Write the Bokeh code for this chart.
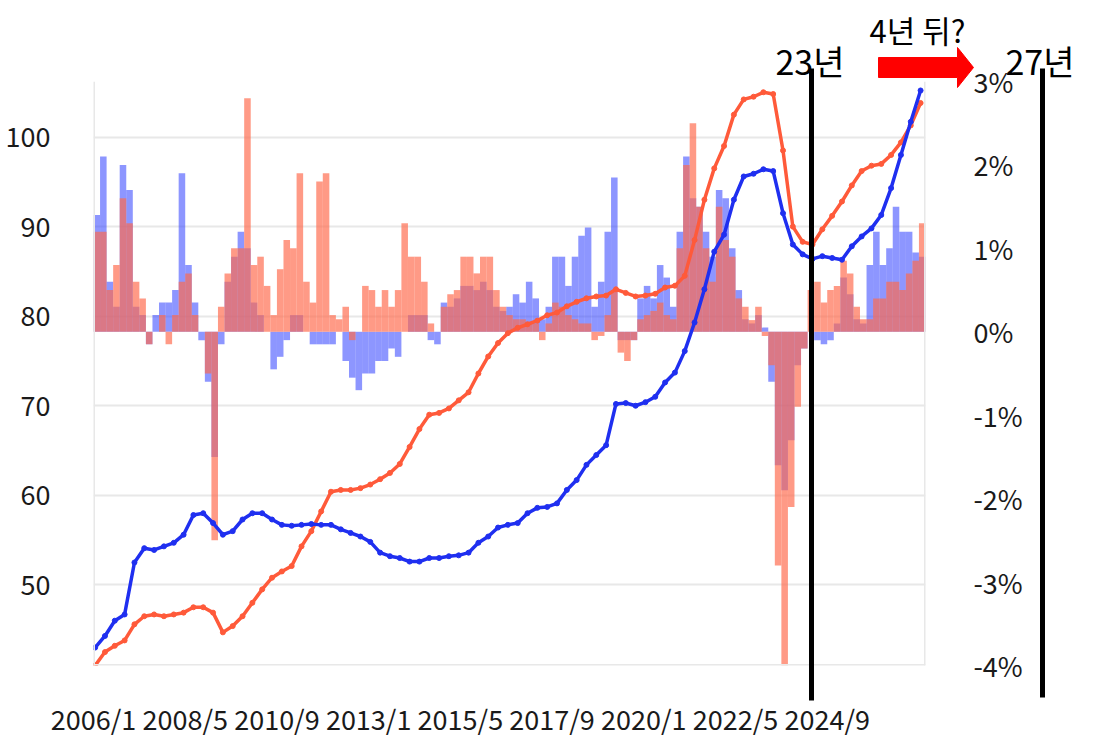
from bokeh.plotting import figure
from bokeh.models import Range1d, LinearAxis, FixedTicker, PrintfTickFormatter, Span
from bokeh.core.properties import value
from bokeh.embed import file_html
from bokeh.resources import INLINE

FONT = "Noto Sans CJK KR"

# 월 인덱스 (2006/1 = 0), 지수 라인은 3개월 간격
line_month = list(range(0, 253, 3))
blue_idx = [43.0, 44.3, 46.0, 46.7, 52.5, 54.1, 53.9, 54.3, 54.7, 55.6,
            57.8, 58.0, 56.9, 55.6, 56.0, 57.3, 58.0, 58.0, 57.3, 56.7,
            56.6, 56.7, 56.8, 56.7, 56.7, 56.2, 55.8, 55.4, 54.8, 53.6,
            53.2, 53.0, 52.6, 52.6, 53.0, 53.0, 53.2, 53.3, 53.6, 54.7,
            55.4, 56.4, 56.7, 56.9, 58.0, 58.6, 58.7, 59.1, 60.6, 61.7,
            63.4, 64.5, 65.6, 70.2, 70.3, 70.0, 70.4, 71.0, 72.6, 73.7,
            76.1, 79.3, 83.0, 87.2, 89.1, 93.0, 95.6, 95.9, 96.4, 96.2,
            91.5, 88.0, 86.9, 86.4, 86.7, 86.5, 86.3, 87.8, 88.9, 89.8,
            91.3, 94.3, 98.0, 101.7, 105.2]
red_idx = [41.0, 42.5, 43.2, 43.8, 45.6, 46.5, 46.7, 46.5, 46.7, 46.9,
           47.5, 47.5, 46.9, 44.7, 45.4, 46.5, 48.0, 49.5, 50.8, 51.5,
           52.1, 54.3, 56.0, 58.2, 60.4, 60.6, 60.6, 60.8, 61.2, 61.8,
           62.5, 63.5, 65.4, 67.4, 69.0, 69.2, 69.7, 70.6, 71.5, 73.6,
           75.5, 77.0, 78.1, 78.7, 79.1, 79.5, 80.1, 80.4, 81.1, 81.6,
           82.0, 82.2, 82.3, 83.0, 82.6, 82.2, 82.3, 82.5, 83.2, 83.4,
           84.5, 88.5, 93.0, 96.5, 99.0, 102.5, 104.2, 104.5, 105.0, 104.8,
           98.5, 90.0, 88.3, 88.0, 89.7, 91.2, 92.8, 94.6, 96.2, 96.8,
           97.0, 98.0, 99.4, 101.3, 103.8]

# 변동률 막대 (2개월 간격, %)
bar_month = list(range(0, 253, 2))
blue_chg = [1.4, 2.1, 0.6, 0.3, 2.0, 1.7, 0.3, 0.2, -0.15, 0.2,
            0.35, 0.35, 0.5, 1.9, 0.8, 0.35, -0.1, -0.6, -1.5, -0.15,
            0.6, 0.9, 1.2, 1.0, 0.35, 0.2, 0.0, -0.45, -0.3, -0.1,
            0.2, 0.2, 0.0, -0.15, -0.15, -0.15, -0.15, 0.0, -0.35, -0.55,
            -0.7, -0.5, -0.5, -0.35, -0.35, -0.2, -0.3, 0.0, 0.2, 0.2,
            0.2, -0.1, -0.15, 0.35, 0.3, 0.4, 0.55, 0.55, 0.5, 0.6,
            0.5, 0.3, 0.25, 0.3, 0.45, 0.35, 0.6, 0.4, 0.15, 0.3,
            0.9, 0.9, 0.55, 0.9, 1.15, 1.25, 0.3, 0.6, 1.2, 1.85,
            -0.1, -0.1, -0.1, 0.4, 0.55, 0.4, 0.8, 0.65, 0.3, 1.2,
            2.1, 1.6, 1.5, 1.2, 0.9, 1.7, 1.6, 1.0, 0.5, 0.15,
            0.1, 0.2, 0.05, -0.6, -1.6, -1.9, -1.3, -0.4, -0.2, 0.0,
            -0.1, -0.15, -0.1, 0.1, 0.65, 0.45, 0.15, 0.1, 0.8, 1.2,
            0.8, 1.0, 1.5, 1.2, 1.2, 0.95, 0.9]
red_chg = [1.2, 1.2, 0.5, 0.8, 1.6, 1.3, 0.6, 0.4, -0.15, 0.0,
           0.2, -0.15, 0.2, 0.6, 0.7, 0.2, 0.0, -0.5, -2.5, 0.3,
           0.7, 1.0, 1.0, 2.8, 0.8, 0.9, 0.55, 0.2, 0.75, 1.1,
           1.0, 1.9, 0.6, 0.35, 1.8, 1.9, 0.2, 0.15, 0.3, -0.1,
           0.0, 0.55, 0.5, 0.3, 0.5, 0.3, 0.5, 1.3, 0.9, 0.9,
           0.6, 0.1, 0.0, 0.3, 0.45, 0.5, 0.9, 0.9, 0.7, 0.9,
           0.9, 0.5, 0.3, 0.2, 0.15, 0.15, 0.1, 0.1, -0.1, 0.1,
           0.35, 0.3, 0.2, 0.15, 0.1, 0.1, -0.1, -0.05, 0.2, 0.5,
           -0.25, -0.35, -0.1, 0.15, 0.2, 0.25, 0.35, 0.2, 0.15, 1.0,
           2.0, 2.5, 1.5, 1.0, 0.6, 1.5, 1.1, 0.9, 0.4, 0.3,
           0.14, 0.3, -0.05, -0.4, -2.8, -4.0, -2.1, -0.9, -0.2, 0.5,
           0.6, 0.35, 0.5, 0.55, 0.85, 0.7, 0.3, 0.15, 0.15, 0.4,
           0.4, 0.6, 0.6, 0.5, 0.7, 0.85, 1.3]

tick_month = [0, 28, 56, 84, 112, 140, 168, 196, 224]
tick_label = ["2006/1", "2008/5", "2010/9", "2013/1", "2015/5",
              "2017/9", "2020/1", "2022/5", "2024/9"]
idx_ticks = [50, 60, 70, 80, 90, 100]
pct_ticks = [-4, -3, -2, -1, 0, 1, 2, 3]

# 주석 (23년 / 27년 세로선, 화살표, 문구) - 화면 픽셀 기준
year_text = ["23년", "27년"]
year_x = [775, 1005]
year_y = [60, 60]
ask_text = ["4년 뒤?"]
ask_x = [869]
ask_y = [29]
vline_x = [811, 1042]
vline_top = [68, 68]
vline_bottom = [700, 697]
arrow_x = [878, 957, 957, 973, 957, 957, 878]
arrow_y = [57, 57, 47, 67, 87, 77, 77]

W, H = 1110, 750

p = figure(width=W, height=H, output_backend="svg", toolbar_location=None,
           x_range=Range1d(0, 254), y_range=Range1d(41, 106.2),
           min_border_left=93, min_border_right=185,
           min_border_top=81, min_border_bottom=85)
p.extra_y_ranges = {"pct": Range1d(-4, 3)}
p.outline_line_color = None

p.xgrid.visible = False
p.ygrid.ticker = FixedTicker(ticks=idx_ticks)
p.ygrid.grid_line_color = "#e8e8e8"
p.ygrid.grid_line_width = 2

# 플롯 영역 테두리 (좌/우/하단)
p.add_layout(Span(location=0, dimension="height", line_color="#e8e8e8", line_width=3))
p.add_layout(Span(location=254, dimension="height", line_color="#e8e8e8", line_width=3))
p.add_layout(Span(location=41, dimension="width", line_color="#e8e8e8", line_width=3))

p.xaxis.ticker = FixedTicker(ticks=tick_month)
p.xaxis.major_label_overrides = dict(zip(tick_month, tick_label))
p.xaxis.major_label_standoff = 27
p.yaxis.ticker = FixedTicker(ticks=idx_ticks)
p.yaxis.major_label_standoff = 37

right = LinearAxis(y_range_name="pct", ticker=FixedTicker(ticks=pct_ticks),
                   formatter=PrintfTickFormatter(format="%d%%"))
right.major_label_standoff = 42
p.add_layout(right, "right")

for ax in p.axis:
    ax.axis_line_color = None
    ax.major_tick_line_color = None
    ax.minor_tick_line_color = None
    ax.major_label_text_font = FONT
    ax.major_label_text_font_size = "27px"
    ax.major_label_text_color = "#1a1a1a"

# 변동률 막대
bar_x = [m + 1 for m in bar_month]
p.vbar(x=bar_x, top=blue_chg, width=2, y_range_name="pct",
       fill_color="#3040ff", fill_alpha=0.55, line_color=None)
p.vbar(x=bar_x, top=red_chg, width=2, y_range_name="pct",
       fill_color="#ff6a4d", fill_alpha=0.68, line_color=None)

# 지수 라인
line_x = [m + 0.5 for m in line_month]
p.line(line_x, red_idx, line_color="#ff5a3a", line_width=3.5)
p.scatter(line_x, red_idx, size=5, color="#ff5a3a")
p.line(line_x, blue_idx, line_color="#1f2ff0", line_width=3.5)
p.scatter(line_x, blue_idx, size=5, color="#1f2ff0")

# 주석용 투명 오버레이 (플롯 영역 밖까지 그리기 위함)
q = figure(width=W, height=H, output_backend="svg", toolbar_location=None,
           x_range=Range1d(0, W), y_range=Range1d(H, 0),
           min_border_left=0, min_border_right=0, min_border_top=0, min_border_bottom=0,
           x_axis_location=None, y_axis_location=None,
           background_fill_alpha=0, border_fill_alpha=0, outline_line_color=None,
           styles={"position": "absolute", "left": "0px", "top": "0px"})
q.title.visible = False
q.grid.visible = False
q.segment(x0=vline_x, y0=vline_top, x1=vline_x, y1=vline_bottom,
          line_width=5, line_color="black")
q.patch(arrow_x, arrow_y, fill_color="#ff0000", line_color="#ff0000")
q.text(x=year_x, y=year_y, text=year_text, text_font=value(FONT),
       text_font_size="34px", text_color="black", text_baseline="alphabetic")
q.text(x=ask_x, y=ask_y, text=ask_text, text_font=value(FONT),
       text_font_size="31px", text_color="black", text_baseline="alphabetic")

open("out.html", "w", encoding="utf-8").write(file_html([p, q], INLINE))
